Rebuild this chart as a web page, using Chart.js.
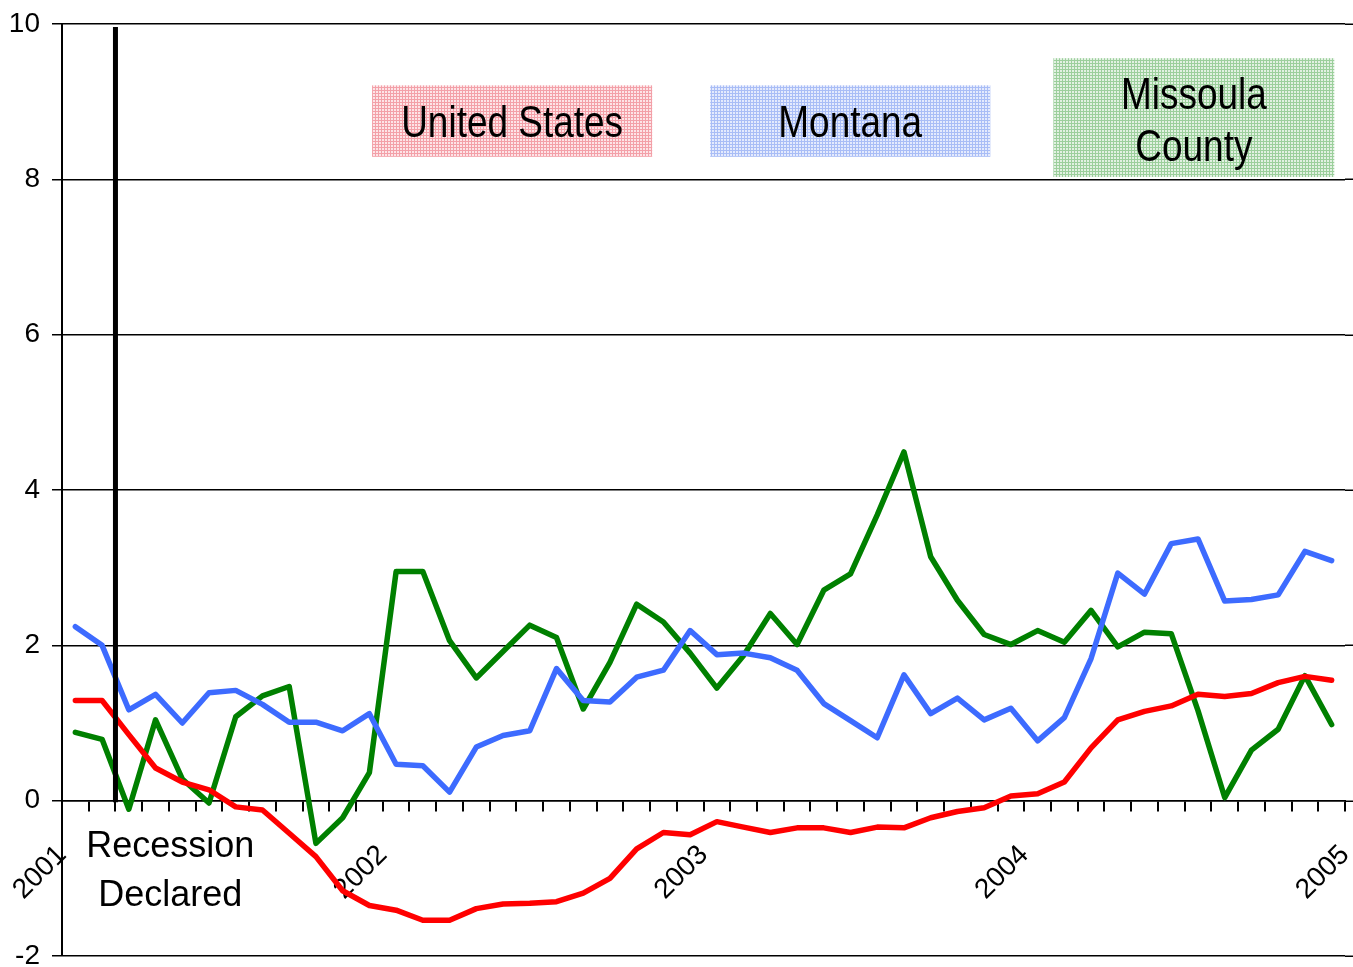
<!DOCTYPE html>
<html>
<head>
<meta charset="utf-8">
<script src="https://cdn.jsdelivr.net/npm/chart.js@4.4.1/dist/chart.umd.min.js"></script>
<style>
  html, body { margin: 0; padding: 0; background: #fff; }
  canvas { display: block; }
</style>
</head>
<body>
<canvas id="chart" width="1353" height="967"></canvas>
<script>
"use strict";

// year tick labels, one every 12 months
var years = ["2001", "2002", "2003", "2004", "2005"];
var monthsPerYear = 12;

// monthly values, Jan 2001 .. Dec 2004
var unitedStates = [1.29, 1.29, 0.85, 0.42, 0.24, 0.14, -0.08, -0.12, -0.42, -0.72, -1.16, -1.35,
    -1.41, -1.54, -1.54, -1.39, -1.33, -1.32, -1.30, -1.19, -1.00, -0.62, -0.41, -0.44,
    -0.27, -0.34, -0.41, -0.35, -0.35, -0.41, -0.34, -0.35, -0.22, -0.14, -0.09, 0.06,
    0.09, 0.24, 0.68, 1.04, 1.15, 1.22, 1.37, 1.34, 1.38, 1.52, 1.60, 1.55];
var montana = [2.24, 2.00, 1.17, 1.37, 1.00, 1.39, 1.42, 1.24, 1.01, 1.01, 0.90, 1.12,
    0.47, 0.45, 0.11, 0.69, 0.84, 0.90, 1.70, 1.29, 1.27, 1.59, 1.68, 2.19,
    1.88, 1.90, 1.84, 1.68, 1.25, 1.03, 0.81, 1.62, 1.12, 1.32, 1.04, 1.19,
    0.77, 1.07, 1.83, 2.93, 2.66, 3.31, 3.37, 2.57, 2.59, 2.65, 3.21, 3.09];
var missoula = [0.88, 0.79, -0.11, 1.04, 0.28, -0.03, 1.08, 1.35, 1.47, -0.55, -0.22, 0.36,
    2.95, 2.95, 2.06, 1.58, 1.92, 2.26, 2.10, 1.18, 1.78, 2.53, 2.30, 1.90,
    1.45, 1.87, 2.41, 2.01, 2.71, 2.92, 3.68, 4.49, 3.14, 2.58, 2.14, 2.01,
    2.19, 2.04, 2.45, 1.98, 2.17, 2.15, 1.16, 0.04, 0.65, 0.92, 1.61, 0.98];

// recession declared: March 2001 (month boundary 2)
var recessionMonth = 2;

var nMonths = unitedStates.length;

// each month is drawn in the middle of its slot
function toPoints(values) {
    return values.map(function (v, i) { return { x: i + 0.5, y: v }; });
}

function makePattern(ctx, bg, fg) {
    var c = document.createElement("canvas");
    c.width = 3;
    c.height = 3;
    var g = c.getContext("2d");
    g.fillStyle = bg;
    g.fillRect(0, 0, 3, 3);
    g.fillStyle = fg;
    g.fillRect(0, 0, 3, 1);
    g.fillRect(0, 0, 1, 3);
    return ctx.createPattern(c, "repeat");
}

// label boxes, placed in month / value units
var boxes = [
    { x0: 11.6, x1: 22.08, y0: 9.21, y1: 8.29, bg: "#fde4e7", fg: "#f3a0a8", lines: ["United States"], base: [8.54] },
    { x0: 24.25, x1: 34.73, y0: 9.21, y1: 8.29, bg: "#e4eafd", fg: "#a9bdf6", lines: ["Montana"], base: [8.54] },
    { x0: 37.09, x1: 47.6, y0: 9.56, y1: 8.03, bg: "#e2f1e2", fg: "#9ccf9c", lines: ["Missoula", "County"], base: [8.90, 8.23] }
];

var sans = "'Liberation Sans', Arial, sans-serif";

var extras = {
    id: "extras",
    beforeDatasetsDraw: function (chart) {
        var ctx = chart.ctx;
        var xs = chart.scales.x, ys = chart.scales.y;
        var area = chart.chartArea;
        ctx.save();
        // gridlines run on to the edge of the picture
        ctx.strokeStyle = "#000";
        ctx.lineWidth = 1.5;
        ys.ticks.forEach(function (t) {
            var py = Math.round(ys.getPixelForValue(t.value)) + 0.25;
            ctx.beginPath();
            ctx.moveTo(area.right, py);
            ctx.lineTo(chart.width, py);
            ctx.stroke();
        });
        // series name boxes, narrow lettering
        boxes.forEach(function (b) {
            var l = xs.getPixelForValue(b.x0), r = xs.getPixelForValue(b.x1);
            var t = ys.getPixelForValue(b.y0), btm = ys.getPixelForValue(b.y1);
            ctx.fillStyle = makePattern(ctx, b.bg, b.fg);
            ctx.fillRect(l, t, r - l, btm - t);
            ctx.fillStyle = "#000";
            ctx.font = "44px " + sans;
            ctx.textAlign = "center";
            ctx.textBaseline = "alphabetic";
            b.lines.forEach(function (s, k) {
                ctx.save();
                ctx.translate((l + r) / 2, ys.getPixelForValue(b.base[k]));
                ctx.scale(0.84, 1);
                ctx.fillText(s, 0, 0);
                ctx.restore();
            });
        });
        ctx.restore();
    },
    afterDatasetsDraw: function (chart) {
        var ctx = chart.ctx;
        var xs = chart.scales.x, ys = chart.scales.y;
        ctx.save();
        var px = xs.getPixelForValue(recessionMonth);
        ctx.strokeStyle = "#000";
        ctx.lineWidth = 5;
        ctx.beginPath();
        ctx.moveTo(px, ys.getPixelForValue(9.96));
        ctx.lineTo(px, ys.getPixelForValue(-0.02));
        ctx.stroke();
        ctx.fillStyle = "#000";
        ctx.font = "36px " + sans;
        ctx.textAlign = "center";
        ctx.textBaseline = "alphabetic";
        ctx.fillText("Recession", xs.getPixelForValue(4.05), ys.getPixelForValue(-0.73));
        ctx.fillText("Declared", xs.getPixelForValue(4.05), ys.getPixelForValue(-1.35));
        ctx.restore();
    }
};

new Chart(document.getElementById("chart"), {
    type: "line",
    data: {
        datasets: [
            { label: "United States", data: toPoints(unitedStates), borderColor: "#ff0000" },
            { label: "Montana", data: toPoints(montana), borderColor: "#3d6bff" },
            { label: "Missoula County", data: toPoints(missoula), borderColor: "#008000" }
        ]
    },
    options: {
        responsive: false,
        animation: false,
        layout: { padding: { top: 24, right: 8, bottom: 11, left: 0 } },
        elements: {
            point: { radius: 0 },
            line: { borderWidth: 5.5, tension: 0, borderJoinStyle: "round", borderCapStyle: "round", fill: false }
        },
        plugins: {
            legend: { display: false },
            tooltip: { enabled: false }
        },
        scales: {
            x: {
                type: "linear",
                min: 0,
                max: nMonths,
                position: { y: 0 },
                grid: { drawOnChartArea: false, drawTicks: true, tickLength: 10, color: "#000", lineWidth: 2 },
                border: { display: true, color: "#000", width: 1.5 },
                ticks: {
                    stepSize: 1,
                    maxTicksLimit: 100,
                    autoSkip: false,
                    maxRotation: 45,
                    minRotation: 45,
                    padding: 28,
                    color: "#000",
                    font: { family: sans, size: 28 },
                    callback: function (v) {
                        return v % monthsPerYear === 0 ? years[v / monthsPerYear] : "";
                    }
                },
                afterFit: function (s) {
                    s.paddingLeft = 0;
                    s.paddingRight = 0;
                }
            },
            y: {
                min: -2,
                max: 10,
                grid: { color: "#000", lineWidth: 1.5, tickLength: 10 },
                border: { color: "#000", width: 2 },
                ticks: {
                    stepSize: 2,
                    padding: 12,
                    color: "#000",
                    font: { family: sans, size: 28 }
                },
                afterFit: function (s) {
                    s.width = 62;
                    s.paddingTop = 0;
                    s.paddingBottom = 0;
                }
            }
        }
    },
    plugins: [extras]
});
</script>
</body>
</html>
